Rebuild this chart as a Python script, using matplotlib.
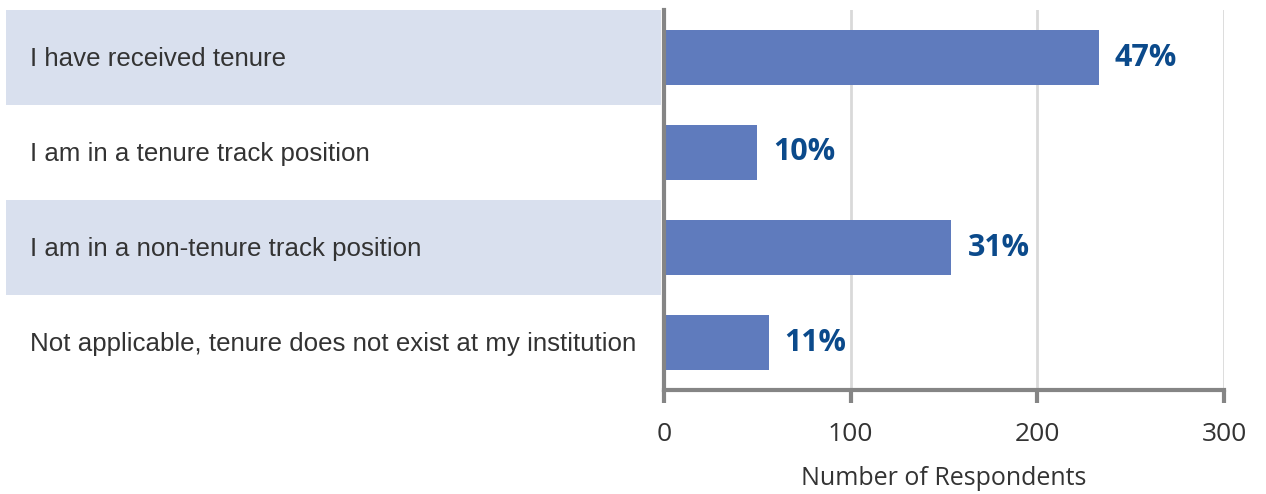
import matplotlib
matplotlib.use("Agg")
import matplotlib.pyplot as plt
from matplotlib.patches import Rectangle
from matplotlib.transforms import blended_transform_factory

categories = ["I have received tenure",
              "I am in a tenure track position",
              "I am in a non-tenure track position",
              "Not applicable, tenure does not exist at my institution"]
values = [233, 50, 154, 56]
pct_labels = ["47%", "10%", "31%", "11%"]
xticks = [0, 100, 200, 300]

W, H = 1266, 494
fig = plt.figure(figsize=(W/100, H/100), dpi=100)
ax = fig.add_axes([664/W, 1 - 390/H, (1224-664)/W, (390-10)/H])

n = len(categories)
ypos = list(range(n))
ax.set_ylim(n - 0.5, -0.5)
ax.set_xlim(0, 300)

bar_color = "#5f7bbd"
ax.barh(ypos, values, height=0.57, color=bar_color, zorder=3)

for x in xticks[1:]:
    ax.axvline(x, color="#d9d9d9", lw=2, zorder=1)

for s in ["top", "right"]:
    ax.spines[s].set_visible(False)
ax.spines["left"].set_color("#858585")
ax.spines["left"].set_linewidth(3)
ax.spines["bottom"].set_color("#858585")
ax.spines["bottom"].set_linewidth(3)
ax.spines["left"].set_zorder(4)

ax.set_yticks([])
ax.set_xticks(xticks)
ax.set_xticklabels([str(t) for t in xticks], fontsize=19, color="#333333", family="Open Sans")
ax.tick_params(axis="x", direction="out", length=9, width=3, color="#858585", pad=14)
ax.set_xlabel("Number of Respondents", fontsize=18, color="#333333", family="Open Sans", labelpad=14)

# bands and category labels
tr = blended_transform_factory(fig.transFigure, ax.transData)
for i, cat in enumerate(categories):
    if i % 2 == 0:
        ax.add_patch(Rectangle((6/W, i - 0.5), (661-6)/W, 1.0, transform=tr,
                               facecolor="#d9e0ee", edgecolor="none", clip_on=False, zorder=0))
    ax.text(30/W, i + 0.02, cat, transform=tr, ha="left", va="center", fontsize=18.6,
            color="#333333", family="Liberation Sans")

# percentage labels
for i, (v, p) in enumerate(zip(values, pct_labels)):
    ax.annotate(p, (v, i), xytext=(16, 0), textcoords="offset pixels", ha="left", va="center",
                fontsize=22, fontweight="bold", color="#0b4a8b", family="Open Sans", zorder=5)

fig.savefig("out.png", dpi=100)
